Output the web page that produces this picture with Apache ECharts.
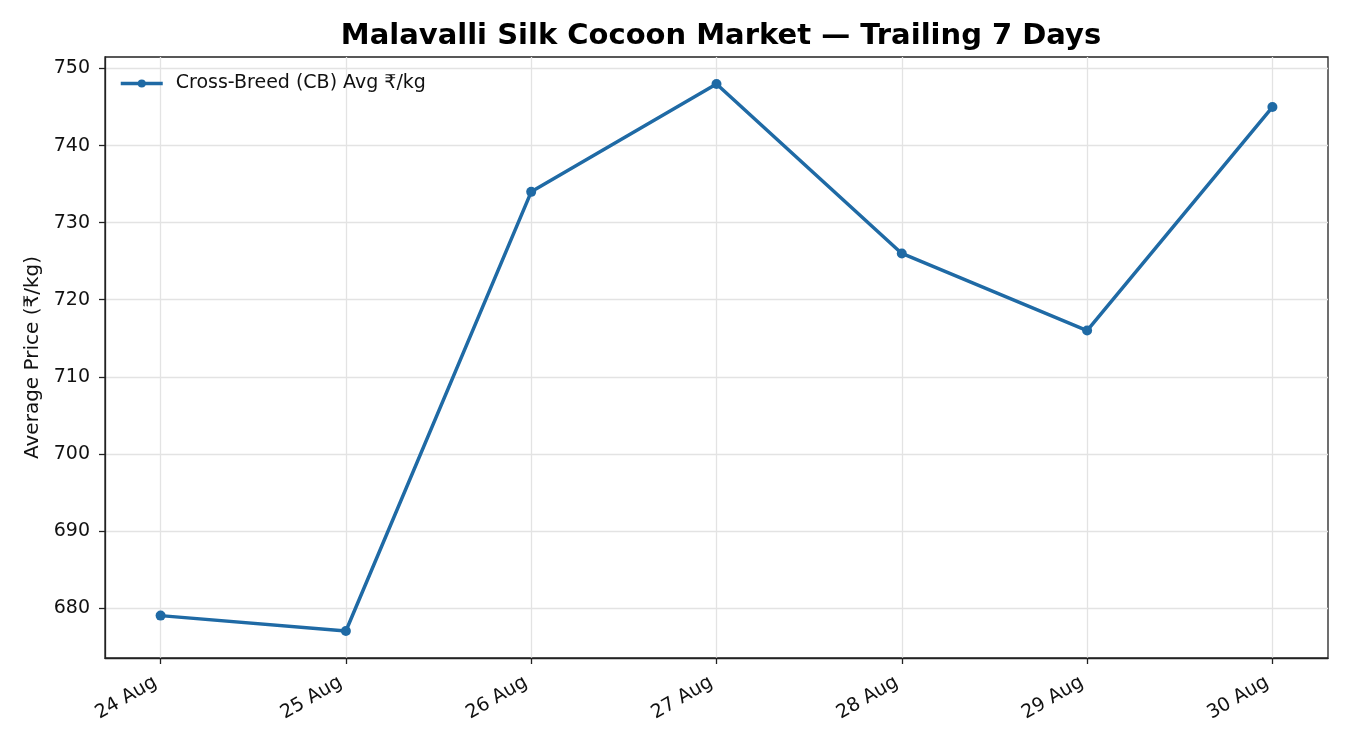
<!DOCTYPE html>
<html>
<head>
<meta charset="utf-8">
<script src="https://cdn.jsdelivr.net/npm/echarts@6/dist/echarts.min.js"></script>
<style>
html,body{margin:0;padding:0;background:#fff;}
#main{width:1350px;height:750px;}
</style>
</head>
<body>
<div id="main"></div>
<script>
var days = ['24 Aug', '25 Aug', '26 Aug', '27 Aug', '28 Aug', '29 Aug', '30 Aug'];
var cbAvg = [679, 677, 734, 748, 726, 716, 745];
var yTicks = [680, 690, 700, 710, 720, 730, 740, 750];
var xTicks = days.map(function (d, i) { return i; });

var FONT = 'DejaVu Sans';
var BLUE = '#1f6aa5';
var seriesName = 'Cross-Breed (CB) Avg \u20b9/kg';

var myChart = echarts.init(document.getElementById('main'));
var option = {
    animation: false,
    backgroundColor: '#fff',
    textStyle: { fontFamily: FONT },
    title: {
        text: 'Malavalli Silk Cocoon Market \u2014 Trailing 7 Days',
        left: 716,
        textAlign: 'center',
        top: 17,
        textStyle: { fontFamily: FONT, fontSize: 29, fontWeight: 'bold', color: '#000' }
    },
    legend: {
        left: 114,
        top: 69,
        itemWidth: 42,
        itemHeight: 10,
        itemGap: 10,
        lineStyle: { width: 3.5 },
        textStyle: { fontFamily: FONT, fontSize: 19, color: '#111', padding: [0, 0, 0, 8] },
        data: [seriesName]
    },
    grid: {
        left: 105, right: 22, top: 57, bottom: 92,
        show: true, borderColor: '#222', borderWidth: 1.3
    },
    xAxis: {
        type: 'value',
        min: -0.3,
        max: 6.3,
        axisLine: { show: true, onZero: false, lineStyle: { color: '#222', width: 1.3 } },
        axisTick: { show: true, length: 6, customValues: xTicks, lineStyle: { color: '#222', width: 1.3 } },
        axisLabel: {
            customValues: xTicks,
            rotate: 30,
            margin: 20,
            padding: [0, 6, 0, 0],
            fontFamily: FONT, fontSize: 19, color: '#111',
            formatter: function (v) { return days[Math.round(v)]; }
        },
        splitLine: { show: true, lineStyle: { color: '#e3e3e3', width: 1.3 } }
    },
    yAxis: {
        type: 'value',
        min: 673.5,
        max: 751.5,
        name: 'Average Price (\u20b9/kg)',
        nameLocation: 'middle',
        nameGap: 62,
        nameTextStyle: { fontFamily: FONT, fontSize: 20, color: '#111' },
        axisLine: { show: true, onZero: false, lineStyle: { color: '#222', width: 1.3 } },
        axisTick: { show: true, length: 6, customValues: yTicks, lineStyle: { color: '#222', width: 1.3 } },
        axisLabel: { customValues: yTicks, margin: 15, fontFamily: FONT, fontSize: 19, color: '#111' },
        splitLine: { show: true, lineStyle: { color: '#e3e3e3', width: 1.3 } }
    },
    series: [{
        name: seriesName,
        type: 'line',
        data: cbAvg.map(function (v, i) { return [i, v]; }),
        symbol: 'circle',
        symbolSize: 10,
        lineStyle: { color: BLUE, width: 3.5 },
        itemStyle: { color: BLUE }
    }]
};
myChart.setOption(option);
</script>
</body>
</html>
